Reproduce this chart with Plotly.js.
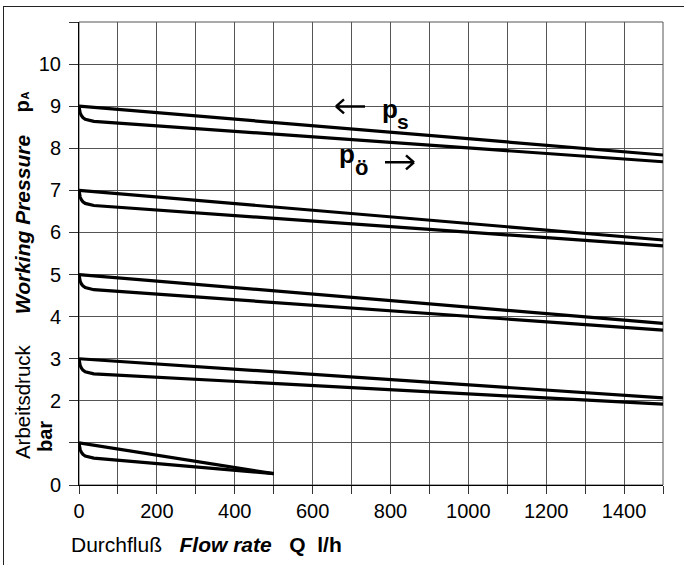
<!DOCTYPE html>
<html>
<head>
<meta charset="utf-8">
<script src="https://cdn.plot.ly/plotly-3.0.1.min.js"></script>
<style>
html,body{margin:0;padding:0;background:#fff;overflow:hidden;}
#chart{position:absolute;left:0;top:0;width:684px;height:565px;}
#frame{position:absolute;left:3px;top:6px;width:720px;height:600px;border-left:1px solid #222;border-top:1px solid #222;pointer-events:none;}
</style>
</head>
<body>
<div id="chart"></div>
<div id="frame"></div>
<script>
// ---- data (flow rate Q in l/h, pressure in bar) ----
var qUp   = [0, 1500];
var ps9   = [9, 7.84];
var ps7   = [7, 5.82];
var ps5   = [5, 3.84];
var ps3   = [3, 2.07];
var qUp1  = [0, 500];
var ps1   = [1, 0.27];

var qLow  = [0, 1, 3, 6, 10, 16, 25, 38, 1500];
var po9   = [9, 8.92, 8.84, 8.78, 8.73, 8.69, 8.665, 8.64, 7.68];
var po7   = [7, 6.92, 6.84, 6.78, 6.73, 6.69, 6.665, 6.64, 5.68];
var po5   = [5, 4.92, 4.84, 4.78, 4.73, 4.69, 4.665, 4.64, 3.68];
var po3   = [3, 2.92, 2.84, 2.78, 2.73, 2.69, 2.665, 2.64, 1.92];
var qLow1 = [0, 1, 3, 6, 10, 16, 25, 38, 500];
var po1   = [1, 0.92, 0.84, 0.78, 0.73, 0.69, 0.665, 0.64, 0.27];

var xTickVals = [0,100,200,300,400,500,600,700,800,900,1000,1100,1200,1300,1400,1500];
var xTickText = ['0','','200','','400','','600','','800','','1000','','1200','','1400',''];
var yTickVals = [0,1,2,3,4,5,6,7,8,9,10,11];
var yTickText = ['0','','2','3','4','5','6','7','8','9','10',''];

// ---- chart ----
var FONT = 'Liberation Sans, Arial, sans-serif';
var lineStyle = {color:'#000', width:3.2};
function tr(x, y){ return {x:x, y:y, mode:'lines', line:lineStyle, hoverinfo:'skip', showlegend:false}; }
var traces = [
  tr(qUp, ps9), tr(qLow, po9),
  tr(qUp, ps7), tr(qLow, po7),
  tr(qUp, ps5), tr(qLow, po5),
  tr(qUp, ps3), tr(qLow, po3),
  tr(qUp1, ps1), tr(qLow1, po1)
];

// plot area in pixels: left 79, right 663, top 21.5, bottom 485
var L = 79, R = 663, T = 21.5, B = 485;
function pxX(p){ return (p - L) / (R - L); }
function pxY(p){ return (B - p) / (B - T); }

function ann(text, px, py, size, extra){
  var a = {text:text, xref:'paper', yref:'paper', x:pxX(px), y:pxY(py),
           xanchor:'center', yanchor:'middle', showarrow:false,
           font:{family:FONT, size:size, color:'#000'}};
  if (extra) for (var k in extra) a[k] = extra[k];
  return a;
}

var annotations = [
  ann('Arbeitsdruck', 22, 402, 20.5, {textangle:-90}),
  ann('<b><i>Working Pressure</i></b>', 22, 224, 21, {textangle:-90}),
  ann('<b>p</b>', 22, 106, 20, {textangle:-90}),
  ann('<b>A</b>', 25, 95, 11, {textangle:-90}),
  ann('<b>bar</b>', 45, 437, 20, {textangle:-90}),
  ann('Durchfluß&nbsp;&nbsp;&nbsp;<b><i>Flow rate</i></b>&nbsp;&nbsp;&nbsp;<b>Q&nbsp;&nbsp;l/h</b>', 206, 545, 21),
  ann('<b>p</b>', 390, 109, 26),
  ann('<b>s</b>', 403, 120.7, 21),
  ann('<b>p</b>', 346.5, 154, 26),
  ann('<b>ö</b>', 361, 167.4, 22)
];

function seg(x0,y0,x1,y1){ return 'M' + pxX(x0) + ',' + pxY(y0) + ' L' + pxX(x1) + ',' + pxY(y1); }
var arrowLine = {color:'#000', width:2.5};
var shapes = [
  {type:'rect', xref:'paper', yref:'paper', x0:0, x1:1, y0:0, y1:1, line:{color:'#555', width:1}, layer:'below'},
  // left arrow (p_s)
  {type:'path', xref:'paper', yref:'paper', path: seg(336,106,365,106) + ' ' + seg(336,106,344,99) + ' ' + seg(336,106,344,113), line:arrowLine},
  // right arrow (p_ö)
  {type:'path', xref:'paper', yref:'paper', path: seg(385,162,414,162) + ' ' + seg(414,162,406,155) + ' ' + seg(414,162,406,169), line:arrowLine}
];

var layout = {
  width:684, height:565,
  margin:{l:L, r:684-R, t:T, b:565-B, pad:0},
  paper_bgcolor:'#fff', plot_bgcolor:'#fff',
  font:{family:FONT, size:20, color:'#000'},
  showlegend:false,
  xaxis:{range:[0,1500], tickmode:'array', tickvals:xTickVals, ticktext:xTickText,
         showgrid:true, gridcolor:'#555', gridwidth:1, zeroline:false,
         showline:true, linecolor:'#000', linewidth:1,
         ticks:'outside', ticklen:8, tickcolor:'#333', tickwidth:1,
         tickfont:{family:FONT, size:20, color:'#000'}, fixedrange:true},
  yaxis:{range:[0,11], tickmode:'array', tickvals:yTickVals, ticktext:yTickText,
         showgrid:true, gridcolor:'#555', gridwidth:1, zeroline:false,
         showline:true, linecolor:'#000', linewidth:1,
         ticks:'outside', ticklen:9, tickcolor:'#333', tickwidth:1, ticklabelstandoff:4,
         tickfont:{family:FONT, size:20, color:'#000'}, fixedrange:true},
  annotations:annotations,
  shapes:shapes
};

Plotly.newPlot('chart', traces, layout, {displayModeBar:false, staticPlot:true});
</script>
</body>
</html>
